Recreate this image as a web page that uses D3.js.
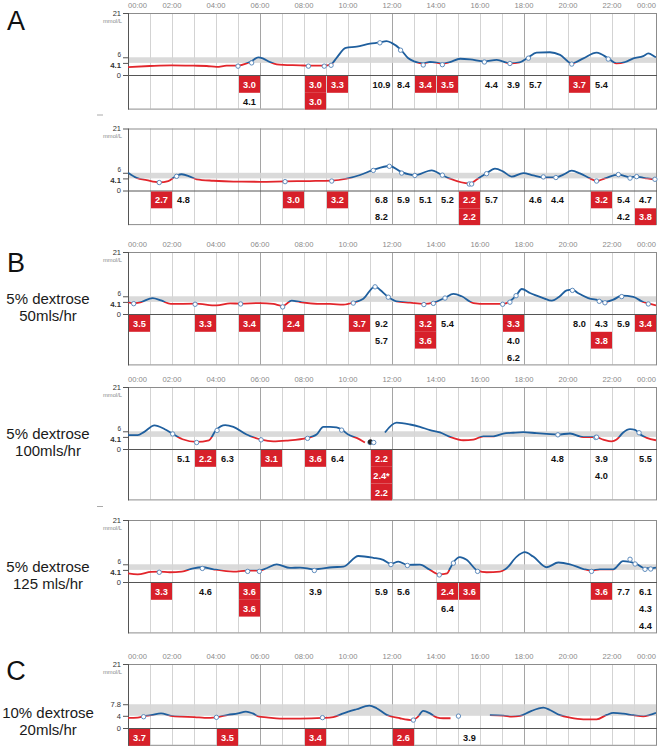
<!DOCTYPE html>
<html><head><meta charset="utf-8">
<script src="https://cdn.jsdelivr.net/npm/d3@7"></script>
<style>body{margin:0;background:#fff}svg{display:block;font-family:"Liberation Sans",Arial,sans-serif}</style>
</head><body><svg id="c" width="661" height="749"></svg>
<script>
// ---------- DATA ----------
const hourLabels = ["00:00","02:00","04:00","06:00","08:00","10:00","12:00","14:00","16:00","18:00","20:00","22:00","00:00"];
const hourLabelAt = [0,2,4,6,8,10,12,14,16,18,20,22,24];

const traceA1 = [[0,2.7],[0.99,3.05],[1.98,3.27],[2.98,3.16],[3.58,3.05],[4.03,2.75],[4.48,3.16],[4.98,3.2],[5.39,3.95],[5.62,4.74],[5.92,5.98],[6.15,5.53],[6.45,4.4],[6.76,3.6],[7.06,3.4],[7.82,3.27],[8.2,3.16],[8.92,3.16],[9.23,3.6],[9.5,6.0],[9.9,9.2],[10.4,9.6],[11.0,10.6],[11.45,11.05],[11.75,11.5],[11.98,10.9],[12.39,8.7],[12.74,5.65],[13.04,4.5],[13.42,3.95],[13.73,4.4],[14.03,4.2],[14.29,3.85],[14.63,4.4],[15.1,5.5],[15.55,5.3],[16.2,4.6],[16.76,5.1],[17.36,3.95],[17.8,4.3],[18.2,6.0],[18.57,7.56],[19.18,7.7],[19.64,6.8],[20.17,3.95],[20.7,5.65],[21.3,7.56],[21.83,5.65],[22.2,3.95],[22.6,4.4],[22.97,5.65],[23.42,6.4],[23.65,7.3],[23.95,6.2],[24,6.0]];
const readA1 = [[5.0,"3.0"],[5.62,"4.1"],[8.2,"3.0"],[8.92,"3.0"],[9.23,"3.3"],[11.45,"10.9"],[12.39,"8.4"],[13.42,"3.4"],[14.29,"3.5"],[16.2,"4.4"],[17.36,"3.9"],[18.2,"5.7"],[20.17,"3.7"],[21.83,"5.4"]];

const traceA2 = [[0,6.05],[0.39,4.3],[0.85,3.5],[1.42,2.75],[1.83,3.2],[2.21,5.0],[2.44,5.5],[2.82,4.7],[3.12,3.8],[3.88,3.3],[4.79,3.0],[6.0,2.95],[7.14,3.1],[8.27,3.2],[9.26,3.35],[9.94,4.0],[10.55,5.25],[11.15,6.95],[11.88,8.3],[12.44,6.2],[13.04,5.15],[13.8,6.85],[14.29,5.15],[14.64,4.0],[15.51,2.4],[15.62,2.4],[15.7,2.9],[16.3,5.8],[16.68,7.4],[17.06,6.4],[17.44,4.7],[17.97,5.9],[18.42,5.1],[18.88,4.45],[19.45,4.45],[19.79,5.4],[20.17,6.7],[20.54,5.8],[21.0,4.1],[21.3,3.2],[21.68,4.1],[22.29,5.4],[22.82,4.5],[23.12,4.7],[23.5,4.2],[23.95,3.8],[24,3.8]];
const readA2 = [[1.42,"2.7"],[2.21,"4.8"],[7.14,"3.0"],[9.26,"3.2"],[11.15,"6.8"],[11.88,"8.2"],[12.44,"5.9"],[13.04,"5.1"],[14.29,"5.2"],[15.51,"2.2"],[15.62,"2.2"],[16.3,"5.7"],[18.88,"4.6"],[19.45,"4.4"],[21.3,"3.2"],[22.29,"5.4"],[22.82,"4.2"],[23.12,"4.7"],[23.95,"3.8"]];

const traceB1 = [[0,4.06],[0.26,3.6],[0.6,4.06],[1.12,5.4],[1.5,4.6],[1.95,3.4],[3.05,3.5],[4.03,2.9],[4.64,3.6],[5.12,3.5],[6.0,3.7],[6.6,3.4],[7.03,2.7],[7.44,4.5],[7.82,4.06],[8.73,3.4],[9.18,3.4],[9.79,3.16],[10.24,3.84],[10.7,5.2],[11.23,9.37],[11.45,8.2],[11.83,5.76],[12.2,4.3],[12.82,3.84],[13.45,3.4],[13.88,3.84],[14.41,5.5],[14.79,6.8],[15.17,6.0],[15.7,3.7],[16.3,3.4],[17.03,3.4],[17.36,4.3],[17.64,6.2],[17.9,8.47],[18.27,7.1],[18.88,5.4],[19.26,4.5],[19.63,6.0],[19.94,8.0],[20.2,8.24],[20.47,7.0],[20.92,5.4],[21.42,4.63],[21.68,4.06],[22.06,4.85],[22.44,6.2],[22.97,5.76],[23.42,4.06],[23.65,3.6],[24,2.9]];
const readB1 = [[0.26,"3.5"],[3.05,"3.3"],[5.12,"3.4"],[7.03,"2.4"],[10.24,"3.7"],[11.23,"9.2"],[11.83,"5.7"],[13.45,"3.2"],[13.88,"3.6"],[14.41,"5.4"],[17.03,"3.3"],[17.36,"4.0"],[17.64,"6.2"],[20.2,"8.0"],[21.42,"4.3"],[21.68,"3.8"],[22.44,"5.9"],[23.65,"3.4"]];

const traceB2 = [[0,4.67],[0.44,4.67],[0.74,5.8],[1.2,8.0],[1.67,6.7],[2.03,5.13],[2.48,3.3],[3.12,2.4],[3.68,2.96],[4.0,6.4],[4.42,8.1],[4.79,7.5],[5.39,4.9],[6.05,3.2],[6.6,2.6],[7.2,2.85],[8.16,3.76],[8.57,4.9],[8.88,7.5],[9.18,7.5],[9.48,7.3],[9.71,6.6],[10.01,4.9],[10.39,3.76],[10.77,2.17],[11.2,null],[11.68,5.6],[12.21,8.9],[12.82,8.3],[13.27,7.5],[13.73,6.4],[14.18,5.6],[14.64,4.1],[15.24,2.96],[15.7,3.2],[16.15,4.3],[16.6,4.3],[17.06,5.2],[17.51,5.5],[17.97,5.7],[18.57,5.36],[19.03,5.13],[19.54,4.9],[20.09,5.25],[20.7,4.0],[21.26,4.0],[21.6,3.2],[21.98,2.6],[22.21,3.2],[22.51,5.6],[22.82,6.7],[23.05,6.5],[23.23,5.25],[23.58,3.76],[24,2.96]];
const readB2 = [[2.03,"5.1"],[3.12,"2.2"],[4.05,"6.3"],[6.05,"3.1"],[8.16,"3.6"],[9.71,"6.4"],[11.0,"2.2"],[11.02,"2.4*"],[11.17,"2.2"],[19.54,"4.8"],[21.26,"3.9"],[21.3,"4.0"],[23.23,"5.5"]];

const traceB3 = [[0,2.95],[0.44,2.6],[1.05,3.4],[1.42,3.5],[1.9,3.3],[2.44,3.5],[2.97,4.65],[3.38,5.0],[3.88,4.3],[4.79,3.5],[5.44,3.85],[5.97,3.85],[6.3,4.65],[6.76,6.0],[7.36,4.76],[7.82,4.9],[8.47,4.3],[9.3,5.0],[9.79,5.2],[10.47,8.8],[11.15,8.2],[11.6,7.5],[11.95,6.1],[12.29,6.9],[12.7,5.8],[13.27,5.9],[13.73,4.1],[14.15,2.6],[14.51,2.95],[14.64,4.65],[14.79,6.6],[15.09,8.4],[15.39,7.5],[15.89,3.85],[16.3,3.3],[16.9,3.5],[17.21,4.65],[17.67,8.6],[18.04,10.1],[18.42,8.6],[19.03,5.0],[19.56,6.6],[20.09,6.0],[20.7,4.4],[21.07,3.85],[21.45,4.3],[22.06,4.3],[22.5,7.1],[22.82,6.8],[23.05,6.35],[23.5,4.65],[23.76,4.65],[24,4.9]];
const readB3 = [[1.42,"3.3"],[3.38,"4.6"],[5.44,"3.6"],[5.97,"3.6"],[8.47,"3.9"],[11.95,"5.9"],[12.7,"5.6"],[14.15,"2.4"],[14.79,"6.4"],[15.89,"3.6"],[21.07,"3.6"],[22.82,"7.7"],[23.05,"6.1"],[23.5,"4.3"],[23.76,"4.4"]];

const traceC = [[0,3.3],[0.44,3.4],[0.71,3.85],[1.05,4.2],[1.5,4.8],[1.95,3.96],[2.41,3.7],[3.02,3.6],[3.48,3.3],[4.0,3.5],[4.55,4.3],[5.0,4.8],[5.36,5.4],[5.67,4.8],[5.97,3.7],[6.3,3.5],[6.9,3.1],[7.82,3.1],[8.84,3.3],[9.33,3.6],[9.79,4.8],[10.39,6.15],[10.97,7.36],[11.3,6.5],[11.76,4.3],[12.36,3.2],[12.94,2.6],[13.15,3.5],[13.42,5.6],[13.73,4.8],[14.03,3.5],[14.33,3.2],[14.66,3.2],[15.5,null],[16.45,4.2],[17.06,4.07],[17.44,3.7],[17.82,3.96],[18.27,5.4],[18.88,6.7],[19.18,5.9],[19.64,4.2],[20.09,3.4],[20.7,2.86],[21.3,2.86],[21.76,4.3],[22.06,4.95],[22.51,4.7],[22.97,4.2],[23.42,3.8],[23.73,4.3],[24,4.95]];
const readC = [[0.71,"3.7"],[4.02,"3.5"],[8.84,"3.4"],[12.97,"2.6"],[15.02,"3.9"]];

const bandAB = [4.1, 6];
const bandC = [4, 7.8];
const ticksAB = [0, 4.1, 6, 21];
const ticksC = [0, 4, 7.8, 21];
const hypoBelow = 3.9;   // readings below this shown in red boxes

// ---------- LAYOUT ----------
const panels = [
  {trace:traceA1, read:readA1, band:bandAB, ticks:ticksAB, top:13,  zero:75,  rows:2, time:true,  letter:"A", letterY:30},
  {trace:traceA2, read:readA2, band:bandAB, ticks:ticksAB, top:128.5, zero:190.5, rows:2, time:false, dash:true},
  {trace:traceB1, read:readB1, band:bandAB, ticks:ticksAB, top:252, zero:314, rows:3, time:true, letter:"B", letterY:272, label:["5% dextrose","50mls/hr"]},
  {trace:traceB2, read:readB2, band:bandAB, ticks:ticksAB, top:387, zero:449, rows:3, time:true, label:["5% dextrose","100mls/hr"]},
  {trace:traceB3, read:readB3, band:bandAB, ticks:ticksAB, top:520, zero:582, rows:3, time:false, dash:true, label:["5% dextrose","125 mls/hr"]},
  {trace:traceC,  read:readC,  band:bandC,  ticks:ticksC,  top:664, zero:728, rows:1, time:true, letter:"C", letterY:680, label:["10% dextrose","20mls/hr"]}
];

const svg = d3.select("#c");
const x = d3.scaleLinear().domain([0,24]).range([128,656]);
const ROW = 16.8;
const BLUE = "#1f5f9e", RED = "#e2262c", BOX = "#d7202a";

panels.forEach((p, pi) => {
  const y = d3.scaleLinear().domain([0,21]).range([p.zero, p.top]);
  const bottom = p.zero + p.rows * ROW;
  const g = svg.append("g");
  const tight = (p.band[1] - p.band[0]) < 3;   // band labels close together

  // grid lines
  g.selectAll("line.grid").data(d3.range(1,24)).join("line")
    .attr("x1", d => x(d)+0.5).attr("x2", d => x(d)+0.5)
    .attr("y1", p.top).attr("y2", bottom)
    .attr("stroke", d => d % 6 === 0 ? "#a5a5a5" : "#d3d3d3").attr("stroke-width", 1);

  // target band
  g.append("rect").attr("x", x(0)).attr("width", x(24)-x(0))
    .attr("y", y(p.band[1])).attr("height", y(p.band[0]) - y(p.band[1]))
    .attr("fill", "#d6d6d6").attr("opacity", 0.9);

  // frame
  g.append("rect").attr("x", x(0)+0.5).attr("y", p.top+0.5).attr("width", x(24)-x(0))
    .attr("height", bottom - p.top).attr("fill", "none").attr("stroke", "#8c8c8c");
  g.append("line").attr("x1", x(0)).attr("x2", x(24)+1).attr("y1", p.zero+0.5).attr("y2", p.zero+0.5)
    .attr("stroke", "#555");
  g.append("line").attr("x1", x(0)+0.5).attr("x2", x(0)+0.5).attr("y1", p.top).attr("y2", bottom+1)
    .attr("stroke", "#555");

  // clip paths for colouring the trace
  const thr = p.band[0];
  const defs = g.append("defs");
  defs.append("clipPath").attr("id", "hi"+pi).append("rect")
    .attr("x", x(0)).attr("width", x(24)-x(0)).attr("y", p.top-3).attr("height", y(thr)-(p.top-3));
  defs.append("clipPath").attr("id", "lo"+pi).append("rect")
    .attr("x", x(0)).attr("width", x(24)-x(0)).attr("y", y(thr)).attr("height", p.zero - y(thr));

  const line = d3.line().defined(d => d[1] != null)
    .x(d => x(d[0])).y(d => y(d[1])).curve(d3.curveMonotoneX);
  g.append("path").datum(p.trace).attr("d", line).attr("fill", "none")
    .attr("stroke", BLUE).attr("stroke-width", 1.8).attr("clip-path", `url(#hi${pi})`);
  g.append("path").datum(p.trace).attr("d", line).attr("fill", "none")
    .attr("stroke", RED).attr("stroke-width", 1.8).attr("clip-path", `url(#lo${pi})`);

  // readings: table cells
  const counts = {};
  const cells = p.read.map(r => {
    const col = Math.floor(r[0]);
    counts[col] = (counts[col] || 0);
    const row = counts[col]++;
    return {h:r[0], label:r[1], v:parseFloat(r[1]), col, row, flag:r[1].includes("*")};
  });
  const cg = g.append("g");
  cg.selectAll("rect").data(cells.filter(c => c.v < hypoBelow)).join("rect")
    .attr("x", c => x(c.col)+1).attr("width", x(1)-x(0)-1)
    .attr("y", c => p.zero + 1 + c.row*ROW).attr("height", ROW)
    .attr("fill", BOX);
  cg.selectAll("text").data(cells).join("text")
    .attr("x", c => x(c.col + 0.5) + 0.5).attr("y", c => p.zero + c.row*ROW + ROW/2 + 1.5)
    .attr("text-anchor", "middle").attr("dominant-baseline", "central")
    .attr("font-size", "9.2px").attr("font-weight", "bold")
    .attr("fill", c => c.v < hypoBelow ? "#fff" : "#111")
    .text(c => c.label);

  // reading markers
  g.selectAll("circle.m").data(cells).join("circle")
    .attr("cx", c => x(c.h)).attr("cy", c => y(c.v)).attr("r", 2.2)
    .attr("fill", c => c.flag ? "#222" : "#fff")
    .attr("stroke", c => c.flag ? "#222" : "#5f8cbd").attr("stroke-width", 1);

  // y axis
  const ax = g.append("g").attr("transform", `translate(${x(0)},0)`)
    .call(d3.axisLeft(y).tickValues(p.ticks).tickSize(5).tickPadding(2)
      .tickFormat(d => String(d)));
  ax.select(".domain").remove();
  ax.selectAll("line").attr("stroke", "#555");
  ax.selectAll("text").attr("font-family", "Liberation Sans, Arial, sans-serif")
    .attr("font-size", d => (tight && d === p.band[0]) ? "7.8px" : (tight && d === p.band[1] ? "6.4px" : "7.5px"))
    .attr("font-weight", d => (tight && d === p.band[0]) ? "bold" : "normal")
    .attr("dy", d => (tight && d === p.band[1]) ? "-0.15em" : ((tight && d === p.band[0]) ? "0.55em" : "0.32em"))
    .attr("fill", "#333");
  g.append("text").attr("x", x(0)-6).attr("y", p.top+9.5).attr("text-anchor", "end")
    .attr("font-size", "5.8px").attr("fill", "#888").text("mmol/L");

  // time labels
  if (p.time) {
    g.selectAll("text.t").data(hourLabelAt).join("text")
      .attr("x", d => x(d)).attr("y", p.top - 5)
      .attr("text-anchor", (d,i) => i === 0 ? "start" : (i === hourLabelAt.length-1 ? "end" : "middle"))
      .attr("font-size", "7.6px").attr("fill", "#8a8a8a")
      .text((d,i) => hourLabels[i]);
  }
  if (p.dash) {
    g.append("line").attr("x1", 97).attr("x2", 103).attr("y1", p.top-13.5).attr("y2", p.top-13.5)
      .attr("stroke", "#aaa").attr("stroke-width", 1);
  }

  // side labels
  if (p.letter) {
    g.append("text").attr("x", 16).attr("y", p.letterY).attr("text-anchor", "middle")
      .attr("font-size", "27px").attr("fill", "#111").text(p.letter);
  }
  if (p.label) {
    g.selectAll("text.lab").data(p.label).join("text")
      .attr("x", 48).attr("y", (d,i) => p.zero - 10 + i*16.5)
      .attr("text-anchor", "middle").attr("font-size", "15px").attr("fill", "#1a1a1a")
      .text(d => d);
  }
});
</script>
</body></html>
